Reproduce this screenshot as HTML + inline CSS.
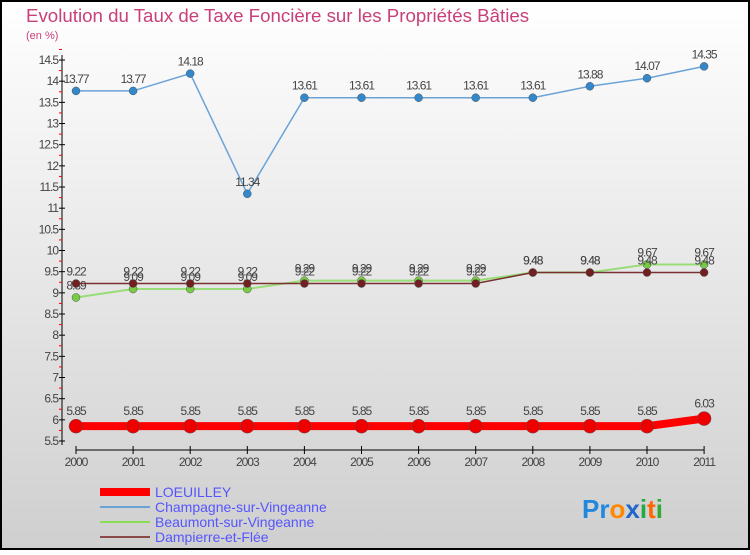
<!DOCTYPE html>
<html><head><meta charset="utf-8"><style>
body{margin:0;width:750px;height:550px;overflow:hidden;font-family:"Liberation Sans",sans-serif}
</style></head><body>
<svg width="750" height="550" xmlns="http://www.w3.org/2000/svg" id="svg">
<defs><linearGradient id="bg" x1="0" y1="0" x2="0" y2="1"><stop offset="0" stop-color="#ffffff"/><stop offset="1" stop-color="#cfcfcf"/></linearGradient></defs>
<rect x="1" y="1" width="748" height="548" fill="url(#bg)" stroke="#000" stroke-width="2"/>
<text x="26" y="22" font-size="18.7" fill="#c8407a">Evolution du Taux de Taxe Foncière sur les Propriétés Bâties</text>
<text x="26" y="39" font-size="11" fill="#c8407a">(en %)</text>
<g id="axes"></g><g id="series"></g>
<g font-size="14" fill="#5555ff">
<rect x="100" y="488" width="50" height="8" fill="#ff0000"/>
<text x="155" y="497">LOEUILLEY</text>
<rect x="100" y="506" width="50" height="2" fill="#6ba3d6"/>
<text x="155" y="512">Champagne-sur-Vingeanne</text>
<rect x="100" y="521" width="50" height="2" fill="#88dd55"/>
<text x="155" y="527">Beaumont-sur-Vingeanne</text>
<rect x="100" y="536" width="50" height="2" fill="#8b4a4a"/>
<text x="155" y="542">Dampierre-et-Flée</text>
</g>
<text x="582" y="518" font-size="26" font-weight="bold"><tspan fill="#2288dd">Pr</tspan><tspan fill="#ff8800">o</tspan><tspan fill="#2266cc">x</tspan><tspan fill="#22aa44">i</tspan><tspan fill="#ff6600">t</tspan><tspan fill="#33aa33">i</tspan></text>
</svg>
<script>
const years=[2000,2001,2002,2003,2004,2005,2006,2007,2008,2009,2010,2011];
const loeuilley=[5.85,5.85,5.85,5.85,5.85,5.85,5.85,5.85,5.85,5.85,5.85,6.03];
const champagne=[13.77,13.77,14.18,11.34,13.61,13.61,13.61,13.61,13.61,13.88,14.07,14.35];
const beaumont=[8.89,9.09,9.09,9.09,9.29,9.29,9.29,9.29,9.48,9.48,9.67,9.67];
const dampierre=[9.22,9.22,9.22,9.22,9.22,9.22,9.22,9.22,9.48,9.48,9.48,9.48];
const yTicks=[5.5,6,6.5,7,7.5,8,8.5,9,9.5,10,10.5,11,11.5,12,12.5,13,13.5,14,14.5];
const NS="http://www.w3.org/2000/svg";
const x=i=>76+i*57.1;
const y=v=>441-(v-5.5)*42.33;
function mk(t,a,p){const e=document.createElementNS(NS,t);for(const k in a)e.setAttribute(k,a[k]);p.appendChild(e);return e;}
const ax=document.getElementById('axes');
let e=mk('line',{x1:62,y1:55,x2:62,y2:445,stroke:'#000'},ax);


e=mk('line',{x1:76,y1:450,x2:704,y2:450,stroke:'#000'},ax);


yTicks.forEach(v=>{
 mk('line',{x1:59,x2:65,y1:y(v),y2:y(v),stroke:'#000'},ax);
 mk('line',{x1:59,x2:62,y1:y(v+0.25),y2:y(v+0.25),stroke:'#f00'},ax);
 const t=mk('text',{x:58,y:y(v)+4,'font-size':12,'text-anchor':'end',fill:'#444','letter-spacing':'-1'},ax);
 
 
 t.textContent=String(v);
});
years.forEach((yr,i)=>{
 mk('line',{x1:x(i),x2:x(i),y1:446,y2:454,stroke:'#000'},ax);
 const t=mk('text',{x:x(i),y:466,'font-size':12,'text-anchor':'middle',fill:'#444','letter-spacing':'-1'},ax);
 
 
 t.textContent=String(yr);
});
const sg=document.getElementById('series');
function draw(name,data,color,w,r,dot){
 const g=mk('g',{},sg);
 
 
 mk('polyline',{points:data.map((v,i)=>x(i)+','+y(v)).join(' '),fill:'none',stroke:color,'stroke-width':w},g);
 data.forEach((v,i)=>{
  const c=mk('circle',{cx:x(i),cy:y(v),r:r,fill:dot,stroke:'#555','stroke-width':0.5},g);
  
  
  const t=mk('text',{x:x(i),y:y(v)-r-4,'font-size':12,'text-anchor':'middle',fill:'#444','letter-spacing':'-1'},g);
  
  
  t.textContent=String(v);
 });
}
draw('champagne',champagne,'#6ba3d6',1.5,4,'#3388cc');
draw('beaumont',beaumont,'#99dd77',2,4,'#77cc44');
draw('dampierre',dampierre,'#7a3030',1.5,4,'#702020');
draw('loeuilley',loeuilley,'#ff0000',8,7,'#ee0000');
</script>
</body></html>
